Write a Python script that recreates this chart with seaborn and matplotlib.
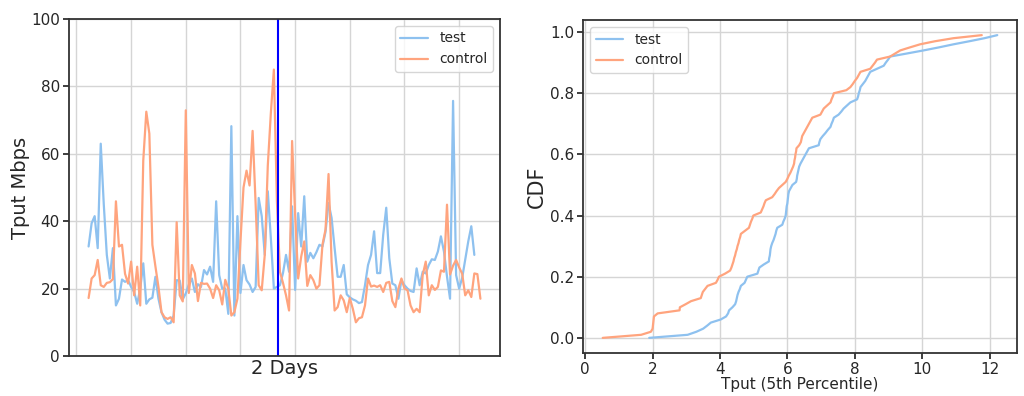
"""Throughput comparison: test vs control over two days, plus CDF of 5th-percentile tput."""

import matplotlib
matplotlib.use("Agg")
import matplotlib.dates as mdates
import matplotlib.pyplot as plt
import numpy as np
import pandas as pd
import seaborn as sns

# --- time series (one sample every 20 minutes) ---
START = "2019-01-01 01:20"
SPLIT = "2019-01-01 22:05"

test_tput = [
    32.5, 39.4, 41.5, 32.0, 63.0, 45.0, 30.0, 23.0, 32.0, 15.0,
    17.0, 22.7, 22.0, 22.5, 20.5, 19.0, 15.5, 20.0, 27.5, 15.5,
    16.8, 17.3, 23.5, 17.0, 13.0, 10.8, 9.6, 9.8, 12.0, 22.5,
    22.4, 16.8, 18.6, 21.2, 23.0, 19.0, 21.3, 20.5, 25.5, 24.2,
    26.5, 22.0, 45.9, 24.0, 20.0, 20.0, 12.5, 68.2, 12.0, 41.5,
    18.7, 27.0, 22.5, 21.2, 19.0, 20.5, 46.9, 41.5, 30.0, 48.9,
    35.0, 20.0, 20.5, 21.0, 24.6, 30.0, 25.0, 44.4, 19.6, 42.4,
    32.5, 47.4, 28.0, 30.6, 29.0, 30.8, 33.0, 32.5, 36.8, 45.4,
    41.0, 32.0, 23.5, 23.5, 27.0, 18.3, 17.4, 16.8, 16.4, 15.7,
    16.0, 21.0, 27.0, 30.0, 37.0, 24.6, 24.6, 36.0, 44.0, 29.0,
    21.5, 21.0, 17.0, 22.5, 21.0, 20.0, 19.3, 19.0, 26.0, 21.0,
    25.0, 24.5, 27.0, 28.7, 28.5, 31.0, 35.5, 31.0, 23.6, 17.0,
    75.7, 24.0, 20.0, 23.2, 28.6, 34.0, 38.5, 30.0,
]

control_tput = [
    17.2, 23.0, 24.0, 28.5, 21.0, 20.5, 21.7, 21.9, 22.8, 45.9,
    32.5, 33.0, 24.4, 21.5, 28.0, 18.0, 26.5, 15.0, 58.0, 72.5,
    66.0, 33.0, 26.6, 20.5, 13.0, 11.5, 11.0, 11.5, 10.0, 39.7,
    18.0, 16.2, 72.9, 18.7, 27.0, 24.5, 16.3, 21.7, 21.4, 21.5,
    20.0, 17.2, 21.0, 19.5, 15.3, 22.6, 20.0, 12.0, 13.0, 17.0,
    34.0, 50.0, 55.0, 50.6, 66.8, 45.0, 21.0, 19.5, 30.0, 56.5,
    72.0, 85.0, 46.0, 25.0, 21.7, 18.0, 13.5, 63.8, 42.0, 23.0,
    29.5, 34.0, 20.8, 24.0, 22.5, 20.0, 21.0, 33.0, 37.5, 54.0,
    28.0, 13.5, 14.5, 18.0, 16.5, 13.0, 17.2, 14.0, 10.0, 11.2,
    11.5, 15.0, 23.0, 20.6, 20.9, 20.5, 21.0, 19.0, 21.7, 22.0,
    16.3, 14.5, 20.0, 23.0, 20.0, 19.5, 15.0, 13.0, 14.0, 13.0,
    24.0, 28.0, 18.0, 21.0, 19.6, 20.5, 25.4, 25.0, 44.9, 24.2,
    26.8, 28.5, 26.3, 24.4, 18.0, 19.5, 17.5, 24.5, 24.3, 17.0,
]

# --- 5th-percentile throughput samples (sorted), for the CDF ---
test_p5 = [
    1.90, 3.04, 3.30, 3.50, 3.62, 3.73, 4.02, 4.18, 4.24, 4.27,
    4.37, 4.45, 4.48, 4.50, 4.52, 4.55, 4.59, 4.62, 4.73, 4.77,
    4.81, 5.11, 5.14, 5.17, 5.30, 5.45, 5.46, 5.48, 5.49, 5.50,
    5.52, 5.55, 5.59, 5.62, 5.65, 5.67, 5.70, 5.85, 5.88, 5.92,
    5.95, 5.96, 5.97, 5.98, 6.00, 6.01, 6.02, 6.03, 6.05, 6.10,
    6.15, 6.26, 6.28, 6.29, 6.31, 6.33, 6.35, 6.39, 6.44, 6.49,
    6.54, 6.59, 6.64, 6.93, 6.95, 6.98, 7.05, 7.13, 7.20, 7.28,
    7.31, 7.35, 7.38, 7.52, 7.60, 7.67, 7.77, 7.87, 8.07, 8.10,
    8.12, 8.15, 8.17, 8.24, 8.31, 8.36, 8.41, 8.46, 8.66, 8.86,
    8.92, 8.99, 9.05, 9.55, 10.04, 10.50, 10.93, 11.40, 11.85, 12.23,
]

control_p5 = [
    0.52, 1.66, 1.95, 2.00, 2.01, 2.02, 2.03, 2.04, 2.15, 2.80,
    2.81, 2.98, 3.14, 3.43, 3.46, 3.49, 3.56, 3.63, 3.88, 3.93,
    3.97, 4.15, 4.30, 4.34, 4.37, 4.40, 4.42, 4.45, 4.47, 4.50,
    4.52, 4.55, 4.57, 4.60, 4.62, 4.74, 4.86, 4.89, 4.92, 4.96,
    4.99, 5.21, 5.25, 5.29, 5.32, 5.36, 5.55, 5.62, 5.68, 5.75,
    5.85, 5.95, 6.00, 6.04, 6.09, 6.13, 6.17, 6.20, 6.21, 6.23,
    6.24, 6.26, 6.27, 6.35, 6.40, 6.42, 6.44, 6.49, 6.54, 6.59,
    6.64, 6.69, 6.74, 6.98, 7.03, 7.08, 7.18, 7.28, 7.31, 7.35,
    7.38, 7.75, 7.87, 7.94, 8.00, 8.07, 8.12, 8.17, 8.46, 8.53,
    8.60, 8.66, 9.05, 9.20, 9.35, 9.64, 9.94, 10.38, 10.93, 11.77,
]

TEST_C = "#8ec1ef"
CONTROL_C = "#ffa47e"

sns.set_theme(context="notebook", style="ticks", rc={"axes.grid": True})
plt.rcParams["font.family"] = ["DejaVu Sans"]

fig = plt.figure(figsize=(10.24, 3.96), dpi=100)
ax1 = fig.add_axes([69 / 1024, 40 / 396, 431 / 1024, 337 / 396])
ax2 = fig.add_axes([583 / 1024, 43 / 396, 434 / 1024, 333 / 396])

test_time = pd.date_range(START, periods=len(test_tput), freq="20min")
control_time = pd.date_range(START, periods=len(control_tput), freq="20min")

sns.lineplot(x=test_time, y=test_tput, ax=ax1, color=TEST_C, lw=1.6, label="test")
sns.lineplot(x=control_time, y=control_tput, ax=ax1, color=CONTROL_C, lw=1.6, label="control")
ax1.axvline(pd.Timestamp(SPLIT), color="blue", lw=1.5)
ax1.set_ylim(0, 100)
ax1.xaxis.set_major_locator(mdates.HourLocator(byhour=[0, 6, 12, 18]))
ax1.tick_params(axis="y", length=4, pad=2.5)
ax1.tick_params(axis="x", labelbottom=False, length=0)
ax1.set_xlabel("2 Days", fontsize=14, labelpad=2)
ax1.set_ylabel("Tput Mbps", fontsize=14, labelpad=1)
ax1.legend(loc="upper right", fontsize=10)

# CDF: sorted samples against i/n
test_cdf = np.arange(len(test_p5)) / len(test_p5)
control_cdf = np.arange(len(control_p5)) / len(control_p5)
sns.lineplot(x=test_p5, y=test_cdf, ax=ax2, color=TEST_C, lw=1.6, label="test",
             estimator=None, sort=False)
sns.lineplot(x=control_p5, y=control_cdf, ax=ax2, color=CONTROL_C, lw=1.6, label="control",
             estimator=None, sort=False)
ax2.set_xticks([0, 2, 4, 6, 8, 10, 12])
ax2.tick_params(length=4, pad=2.5)
ax2.set_xlabel("Tput (5th Percentile)", fontsize=11, labelpad=0)
ax2.set_ylabel("CDF", fontsize=15, labelpad=2)
ax2.legend(loc="upper left", fontsize=10)

for ax in (ax1, ax2):
    for s in ax.spines.values():
        s.set_color("#333333")
        s.set_linewidth(1.3)
    ax.grid(True, color="#d5d5d5", lw=1)

fig.savefig("out.png", dpi=100)
